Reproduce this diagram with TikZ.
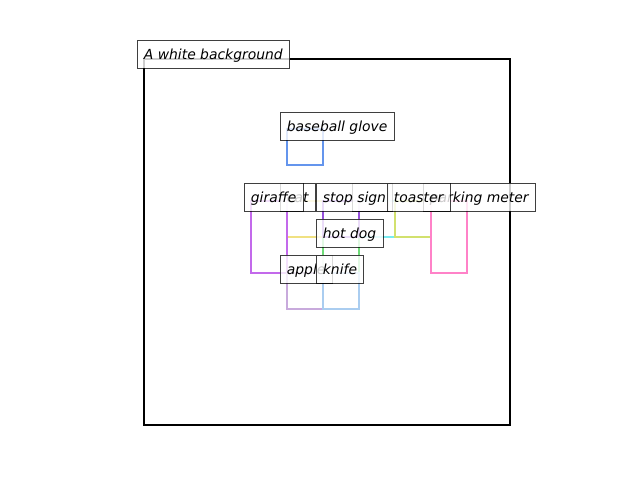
\documentclass[tikz,border=0pt]{standalone}
\usepackage{fontspec}
\setsansfont{DejaVu Sans}
\definecolor{cglove}{RGB}{100,149,237}
\definecolor{cgiraffe}{RGB}{195,105,235}
\definecolor{ccat}{RGB}{240,225,130}
\definecolor{cstop}{RGB}{150,80,220}
\definecolor{chidden}{RGB}{120,235,240}
\definecolor{ctoaster}{RGB}{210,225,110}
\definecolor{cparking}{RGB}{255,130,200}
\definecolor{chotdog}{RGB}{110,220,120}
\definecolor{capple}{RGB}{200,170,220}
\definecolor{cknife}{RGB}{170,205,240}
\tikzset{
  lbl/.style={draw=black, draw opacity=0.75, fill=white, fill opacity=0.8, text opacity=1,
    line width=1pt, anchor=west, inner xsep=6.9pt, inner ysep=0pt, outer sep=0pt,
    minimum height=28pt, text height=12pt, text depth=2pt,
    font=\sffamily\itshape\fontsize{13.89}{16}\selectfont},
  bb/.style={line width=2pt}
}
\begin{document}
\begin{tikzpicture}[x=1pt,y=-1pt]
\useasboundingbox (0,0) rectangle (640,480);
% boxes
\draw[bb, black] (144,59) rectangle (510,425);
\draw[bb, cglove] (287,129) rectangle (323,165);
\draw[bb, ccat] (287,201) rectangle (323,237);
\draw[bb, cgiraffe] (251,201) rectangle (287,273);
\draw[bb, chidden] (359,201) rectangle (395,237);
\draw[bb, chotdog] (323,237) rectangle (359,273);
\draw[bb, cstop] (323,201) rectangle (359,237);
\draw[bb, ctoaster] (395,201) rectangle (431,237);
\draw[bb, cparking] (431,201) rectangle (467,273);
\draw[bb, capple] (287,273) rectangle (323,309);
\draw[bb, cknife] (323,273) rectangle (359,309);
% labels
\node[lbl] (lbg) at (137,54) {A white background};
\node[lbl] (lglove) at (280,126) {baseball glove};
\node[lbl] (lcat) at (280,197) {cat};
\node[lbl] (lgiraffe) at (244,197) {giraffe};
\node[lbl, minimum width=36pt] (lhidden) at (352,197) {};
\node[lbl] (lstop) at (316,197) {stop sign};
\node[lbl] (lparking) at (423,197) {parking meter};
\node[lbl] (ltoaster) at (387,197) {toaster};
\node[lbl] (lhotdog) at (316,233) {hot dog};
\node[lbl] (lapple) at (280,269) {apple};
\node[lbl] (lknife) at (316,269) {knife};
\end{tikzpicture}
\end{document}
